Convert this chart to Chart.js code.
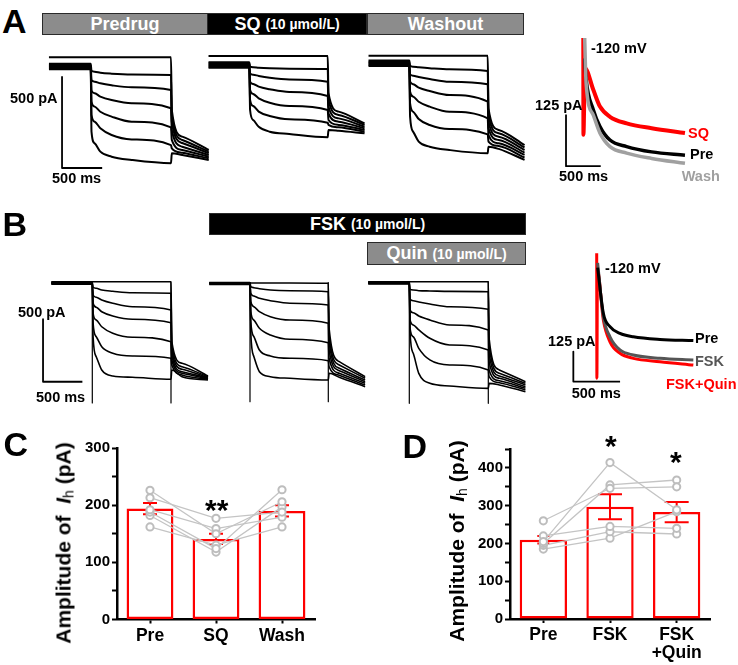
<!DOCTYPE html>
<html>
<head>
  <meta charset="utf-8">
  <script src="https://cdn.jsdelivr.net/npm/chart.js"></script>
  <style>
    body { margin: 0; background: #fff; }
    #fig { position: relative; width: 738px; height: 665px; overflow: hidden; background: #fff;
           font-family: 'Liberation Sans', Arial, sans-serif; font-weight: bold; }
    #fig canvas { position: absolute; }
    .t { position: absolute; line-height: 1; white-space: nowrap; z-index: 2; font-size: 14.5px; color: #000; }
    .big { font-size: 34px; }
    .hb { position: absolute; box-sizing: border-box; border: 1.5px solid #2a2a2a; color: #fff;
          font-size: 18px; display: flex; align-items: center; justify-content: center; z-index: 2; }
    .hb small { font-size: 14px; margin-left: 5px; }
    .gray { background: #8c8c8c; }
    .blk { background: #000; }
    .yt { position: absolute; transform: translate(-50%, -50%) rotate(-90deg); white-space: nowrap;
          font-size: 21px; z-index: 2; }
    .yt sub { font-size: 14px; font-weight: normal; vertical-align: -3px; }
    .star { position: absolute; font-size: 30px; line-height: 1; z-index: 2; }
  </style>
</head>
<body>
<div id="fig">
  <div class="t big" style="left:2px;top:4px">A</div>
  <div class="t big" style="left:2.5px;top:207px">B</div>
  <div class="t big" style="left:3.5px;top:426.5px">C</div>
  <div class="t big" style="left:402.5px;top:429px">D</div>

  <div class="hb gray" style="left:42px;top:13px;width:166px;height:22px">Predrug</div>
  <div class="hb blk" style="left:207px;top:13px;width:160px;height:22px">SQ<small>(10 µmol/L)</small></div>
  <div class="hb gray" style="left:367px;top:13px;width:157px;height:22px">Washout</div>
  <div class="hb blk" style="left:209px;top:213px;width:317px;height:22px">FSK<small>(10 µmol/L)</small></div>
  <div class="hb gray" style="left:367px;top:242px;width:159px;height:23px">Quin<small>(10 µmol/L)</small></div>

  <div class="t" style="left:10px;top:91.3px">500 pA</div>
  <div class="t" style="left:52px;top:171.3px">500 ms</div>
  <div class="t" style="left:18px;top:304.5px">500 pA</div>
  <div class="t" style="left:36px;top:389.7px">500 ms</div>

  <div class="t" style="left:591px;top:41.3px">-120 mV</div>
  <div class="t" style="left:535px;top:98px">125 pA</div>
  <div class="t" style="left:688px;top:126.3px;color:#ff0000">SQ</div>
  <div class="t" style="left:690px;top:147.3px">Pre</div>
  <div class="t" style="left:681.7px;top:168.7px;color:#a0a0a0">Wash</div>
  <div class="t" style="left:559px;top:168.7px">500 ms</div>

  <div class="t" style="left:605px;top:260.7px">-120 mV</div>
  <div class="t" style="left:548px;top:334px">125 pA</div>
  <div class="t" style="left:695px;top:330.7px">Pre</div>
  <div class="t" style="left:695px;top:354px;color:#555">FSK</div>
  <div class="t" style="left:666px;top:377.3px;color:#ff0000">FSK+Quin</div>
  <div class="t" style="left:571.7px;top:386.3px">500 ms</div>

  <div class="yt" style="left:64px;top:543px">Amplitude of&nbsp; <i>I</i><sub>h</sub> (pA)</div>
  <div class="yt" style="left:457px;top:541px">Amplitude of&nbsp; <i>I</i><sub>h</sub> (pA)</div>

  <div class="star" style="left:205px;top:495px">**</div>
  <div class="star" style="left:605px;top:431px">*</div>
  <div class="star" style="left:670px;top:447px">*</div>
</div>

<script>
// sweep sample times (ms): holding, step on, decay samples, step off, tail samples
const SWEEP_T = [-520, 0, 10, 50, 120, 260, 510, 1000, 1010, 1140, 1470];

// currents (pA) at SWEEP_T, one row per voltage step
const A1_SWEEPS = [
  [48, 48, 48, 48, 48, 48, 48, 48, -242, -388, -461],
  [12, 12, -26, -31, -37, -42, -46, -49, -269, -406, -470],
  [6, 6, -77, -86, -95, -106, -117, -132, -306, -423, -479],
  [0, 0, -135, -150, -168, -187, -205, -232, -351, -443, -489],
  [-6, -6, -196, -223, -251, -278, -306, -337, -406, -461, -498],
  [-12, -12, -269, -306, -342, -379, -403, -434, -452, -476, -507],
  [-18, -18, -361, -425, -470, -498, -516, -534, -479, -489, -516]
];
const A2_SWEEPS = [
  [49, 49, 49, 49, 49, 49, 49, 49, -155, -256, -320],
  [15, 15, -9, -12, -15, -18, -20, -22, -192, -274, -329],
  [9, 9, -46, -53, -60, -70, -79, -92, -229, -293, -339],
  [3, 3, -92, -104, -119, -133, -148, -170, -265, -311, -348],
  [-3, -3, -137, -159, -183, -207, -225, -247, -302, -329, -357],
  [-9, -9, -192, -225, -256, -280, -298, -317, -329, -342, -366],
  [-15, -15, -247, -302, -339, -366, -379, -397, -357, -361, -375]
];
const A3_SWEEPS = [
  [42, 42, 42, 42, 42, 42, 42, 42, -247, -366, -449],
  [15, 15, -13, -19, -22, -27, -33, -42, -284, -384, -462],
  [9, 9, -60, -68, -75, -86, -101, -115, -321, -403, -476],
  [3, 3, -101, -115, -134, -152, -174, -211, -357, -421, -490],
  [-3, -3, -156, -183, -211, -238, -266, -302, -394, -439, -503],
  [-9, -9, -220, -266, -306, -339, -361, -390, -430, -454, -517],
  [-15, -15, -293, -376, -430, -458, -476, -494, -458, -470, -530]
];
const B1_SWEEPS = [
  [10, 10, 10, 10, 10, 10, 10, 10, -470, -642, -744],
  [6, 6, -34, -42, -56, -66, -78, -82, -496, -670, -750],
  [3, 3, -96, -114, -136, -162, -190, -216, -536, -690, -754],
  [0, 0, -162, -194, -230, -264, -290, -318, -576, -710, -760],
  [-3, -3, -242, -296, -350, -402, -434, -470, -616, -722, -766],
  [-6, -6, -322, -430, -510, -562, -584, -602, -656, -736, -770],
  [-9, -9, -430, -590, -696, -744, -754, -770, -696, -750, -776]
];
const B2_SWEEPS = [
  [3, 3, 3, 3, 3, 3, 2, 0, -360, -627, -747],
  [6, 6, -27, -35, -43, -54, -59, -67, -414, -654, -760],
  [3, 3, -80, -102, -120, -139, -160, -174, -467, -680, -774],
  [0, 0, -147, -187, -227, -267, -294, -320, -534, -699, -787],
  [-3, -3, -227, -294, -360, -414, -448, -475, -600, -720, -800],
  [-6, -6, -307, -427, -534, -582, -600, -619, -667, -736, -814],
  [-9, -9, -400, -587, -707, -747, -760, -774, -720, -752, -827]
];
const B3_SWEEPS = [
  [8, 8, 8, 8, 8, 8, 8, 8, -445, -698, -792],
  [6, 6, -53, -58, -64, -66, -69, -72, -498, -725, -805],
  [3, 3, -133, -144, -154, -170, -192, -213, -565, -746, -818],
  [0, 0, -218, -240, -266, -298, -338, -378, -632, -765, -832],
  [-3, -3, -298, -338, -378, -445, -498, -538, -698, -784, -845],
  [-6, -6, -365, -432, -525, -618, -658, -698, -752, -800, -858],
  [-9, -9, -405, -565, -725, -805, -826, -845, -805, -818, -872]
];
// capacitive transient peaks in B (pA)
const B_CAP_PEAK = [-960, -947, -965];

// scale bars: [ms, pA] corner points
const A_SCALE = [[-357, -60], [-357, -560], [143, -560]];
const B_SCALE = [[-626, -290], [-626, -790], [-126, -790]];
const AI_SCALE = [[-249, -189], [-249, -314], [251, -314]];
const BI_SCALE = [[-250, -410], [-250, -535], [250, -535]];

// -120 mV sweeps (insets)
const AI_T_SQ = [0, 2, 24, 144, 240, 384, 624, 984, 1464];
const AI_SQ = [0, -237, -74, -127, -168, -193, -209, -221, -233];
const AI_T = [20, 40, 144, 240, 384, 624, 984, 1464];
const AI_PRE = [-50, -100, -176, -217, -250, -266, -279, -287];
const AI_WASH = [0, -110, -189, -233, -266, -282, -295, -307];

const BI_T = [10, 71, 142, 249, 392, 677, 1034];
const BI_PRE = [-60, -250, -306, -334, -348, -359, -364];
const BI_FSK = [-40, -264, -348, -403, -424, -438, -445];
const BI_T_QUIN = [0, 2, 8, 71, 142, 249, 392, 677, 1034];
const BI_QUIN = [0, -521, -70, -278, -369, -417, -438, -452, -466];

// summary panels
const C_CATS = ['Pre', 'SQ', 'Wash'];
const C_MEAN = [194, 141, 190];
const C_SEM = [10, 9, 10];
const C_CELLS = [
  [226, 150, 206], [213, 177, 188], [192, 159, 179],
  [188, 124, 227], [182, 118, 197], [162, 130, 162]
];
const D_CATS = ['Pre', 'FSK', ['FSK', '+Quin']];
const D_MEAN = [210, 297, 283];
const D_SEM = [10, 33, 27];
const D_CELLS = [
  [260, 346, 350], [205, 414, 289], [200, 355, 368],
  [220, 245, 240], [195, 231, 225], [185, 214, 284]
];

Chart.defaults.font.family = "'Liberation Sans', Arial, sans-serif";
Chart.defaults.font.weight = 'bold';
const fig = document.getElementById('fig');

function pts(ts, vs) { return ts.map((t, i) => ({ x: t, y: vs[i] })); }

function line(data, color, width, smooth) {
  return {
    data: data, showLine: true, borderColor: color, borderWidth: width, pointRadius: 0,
    cubicInterpolationMode: smooth ? 'monotone' : 'default', tension: 0,
    borderJoinStyle: 'round', clip: false
  };
}

function sweeps(rows, width) {
  return rows.map(r => line(pts(SWEEP_T, r), '#000', width, true));
}

function scaleBar(p) { return line(p.map(q => ({ x: q[0], y: q[1] })), '#000', 1.8, false); }

function capLines(top, peak) {
  return [line([{ x: 0, y: top }, { x: 0, y: peak }], '#000', 1.2, false),
          line([{ x: 1000, y: top }, { x: 1000, y: peak }], '#000', 1.2, false)];
}

// g: x0/y0 = pixel of t=0 / I=0, px = px per ms, py = px per pA
function traceChart(g, sets) {
  const left = Math.round(g.x0 + g.tMin * g.px), right = Math.round(g.x0 + g.tMax * g.px);
  const top = Math.round(g.y0 - g.iMax * g.py), bottom = Math.round(g.y0 - g.iMin * g.py);
  const cv = document.createElement('canvas');
  cv.width = right - left; cv.height = bottom - top;
  cv.style.left = left + 'px'; cv.style.top = top + 'px';
  cv.style.width = (right - left) + 'px'; cv.style.height = (bottom - top) + 'px';
  fig.appendChild(cv);
  new Chart(cv, {
    type: 'scatter',
    data: { datasets: sets },
    options: {
      responsive: false, animation: false, devicePixelRatio: 1, events: [],
      layout: { padding: 0 },
      plugins: { legend: { display: false }, tooltip: { enabled: false } },
      scales: {
        x: { type: 'linear', display: false, min: (left - g.x0) / g.px, max: (right - g.x0) / g.px },
        y: { type: 'linear', display: false, min: (g.y0 - bottom) / g.py, max: (g.y0 - top) / g.py }
      }
    }
  });
}

const A_PY = 1 / 5.49, B_PY = 1 / 8.0;
traceChart({ x0: 90.7, px: 0.0803, y0: 66, py: A_PY, tMin: -560, tMax: 1500, iMin: -620, iMax: 80 },
  sweeps(A1_SWEEPS, 2).concat([scaleBar(A_SCALE)]));
traceChart({ x0: 249.3, px: 0.0784, y0: 65, py: A_PY, tMin: -560, tMax: 1500, iMin: -460, iMax: 80 },
  sweeps(A2_SWEEPS, 2));
traceChart({ x0: 409.3, px: 0.0784, y0: 63.3, py: A_PY, tMin: -560, tMax: 1500, iMin: -570, iMax: 80 },
  sweeps(A3_SWEEPS, 2));

traceChart({ x0: 92.3, px: 0.0787, y0: 283, py: B_PY, tMin: -680, tMax: 1500, iMin: -1000, iMax: 40 },
  sweeps(B1_SWEEPS, 1.6).concat(capLines(10, B_CAP_PEAK[0]), [scaleBar(B_SCALE)]));
traceChart({ x0: 250, px: 0.0783, y0: 283.3, py: B_PY, tMin: -560, tMax: 1500, iMin: -1000, iMax: 40 },
  sweeps(B2_SWEEPS, 1.6).concat(capLines(6, B_CAP_PEAK[1])));
traceChart({ x0: 409.3, px: 0.079, y0: 282.7, py: B_PY, tMin: -560, tMax: 1500, iMin: -1000, iMax: 40 },
  sweeps(B3_SWEEPS, 1.6).concat(capLines(8, B_CAP_PEAK[2])));

traceChart({ x0: 583.3, px: 1 / 14.4, y0: 38, py: 1 / 2.45, tMin: -300, tMax: 1500, iMin: -330, iMax: 20 }, [
  line(pts(AI_T, AI_WASH), '#a0a0a0', 3.5, true),
  line(pts(AI_T, AI_PRE), '#000', 3.5, true),
  line(pts(AI_T_SQ, AI_SQ), '#ff0000', 4, true),
  scaleBar(AI_SCALE)
]);
traceChart({ x0: 596.7, px: 1 / 10.7, y0: 253.3, py: 1 / 4.17, tMin: -300, tMax: 1060, iMin: -560, iMax: 20 }, [
  line(pts(BI_T, BI_PRE), '#000', 3, true),
  line(pts(BI_T, BI_FSK), '#555', 3, true),
  line(pts(BI_T_QUIN, BI_QUIN), '#ff0000', 3, true),
  scaleBar(BI_SCALE)
]);

// mean +/- SEM bars, drawn right after the bar dataset
const errorBars = {
  id: 'errorBars',
  afterDatasetDraw(chart, args, opts) {
    if (args.index !== 0) return;
    const ctx = chart.ctx, y = chart.scales.y, means = chart.data.datasets[0].data;
    ctx.save();
    ctx.strokeStyle = '#ff0000';
    ctx.lineWidth = 2;
    args.meta.data.forEach((bar, i) => {
      const yt = y.getPixelForValue(means[i] + opts.sems[i]);
      const yb = y.getPixelForValue(means[i] - opts.sems[i]);
      const c = opts.caps[i];
      ctx.beginPath();
      ctx.moveTo(bar.x, yt); ctx.lineTo(bar.x, yb);
      ctx.moveTo(bar.x - c, yt); ctx.lineTo(bar.x + c, yt);
      ctx.moveTo(bar.x - c, yb); ctx.lineTo(bar.x + c, yb);
      ctx.stroke();
    });
    ctx.restore();
  }
};

function barChart(box, pad, cats, means, sems, caps, cells, yMax) {
  const cv = document.createElement('canvas');
  cv.width = box.w; cv.height = box.h;
  cv.style.left = box.x + 'px'; cv.style.top = box.y + 'px';
  cv.style.width = box.w + 'px'; cv.style.height = box.h + 'px';
  fig.appendChild(cv);
  const sets = [{
    type: 'bar', data: means, backgroundColor: '#fff', borderColor: '#ff0000', borderWidth: 2.5,
    borderSkipped: false, barPercentage: 0.71, categoryPercentage: 1, order: 2
  }].concat(cells.map(c => ({
    type: 'line', data: c, borderColor: '#c4c4c4', borderWidth: 1.3, pointRadius: 3.6,
    pointBorderWidth: 2, pointBackgroundColor: '#fff', pointBorderColor: '#bdbdbd', order: 1, clip: false
  })));
  new Chart(cv, {
    data: { labels: cats, datasets: sets },
    plugins: [errorBars],
    options: {
      responsive: false, animation: false, devicePixelRatio: 1, events: [],
      layout: { padding: pad },
      plugins: { legend: { display: false }, tooltip: { enabled: false }, errorBars: { sems: sems, caps: caps } },
      scales: {
        x: {
          type: 'category', offset: true, z: 1,
          grid: { offset: false, drawOnChartArea: false, tickLength: 4, tickWidth: 2, tickColor: '#000' },
          border: { color: '#000', width: 2.5 },
          ticks: { font: { size: 17.5, weight: 'bold', lineHeight: 1.05 }, color: '#000', padding: 3, maxRotation: 0, autoSkip: false },
          afterFit: s => { s.height = box.xh; }
        },
        y: {
          min: 0, max: yMax, z: 1,
          grid: { drawOnChartArea: false, tickLength: 5, tickWidth: 2, tickColor: '#000' },
          border: { color: '#000', width: 2.5 },
          ticks: { stepSize: 50, autoSkip: false, font: { size: 15, weight: 'bold' }, color: '#000', padding: 2,
                   callback: v => (v % 100 === 0 ? v : '') },
          afterFit: s => { s.width = 37; }
        }
      }
    }
  });
}

barChart({ x: 0, y: 420, w: 330, h: 245, xh: 42.5 }, { left: 80, right: 15, top: 28, bottom: 3 },
  C_CATS, C_MEAN, C_SEM, [7, 7, 7], C_CELLS, 300);
barChart({ x: 370, y: 420, w: 368, h: 245, xh: 43 }, { left: 103, right: 28, top: 29, bottom: 3 },
  D_CATS, D_MEAN, D_SEM, [6, 12, 12], D_CELLS, 450);
</script>
</body>
</html>
